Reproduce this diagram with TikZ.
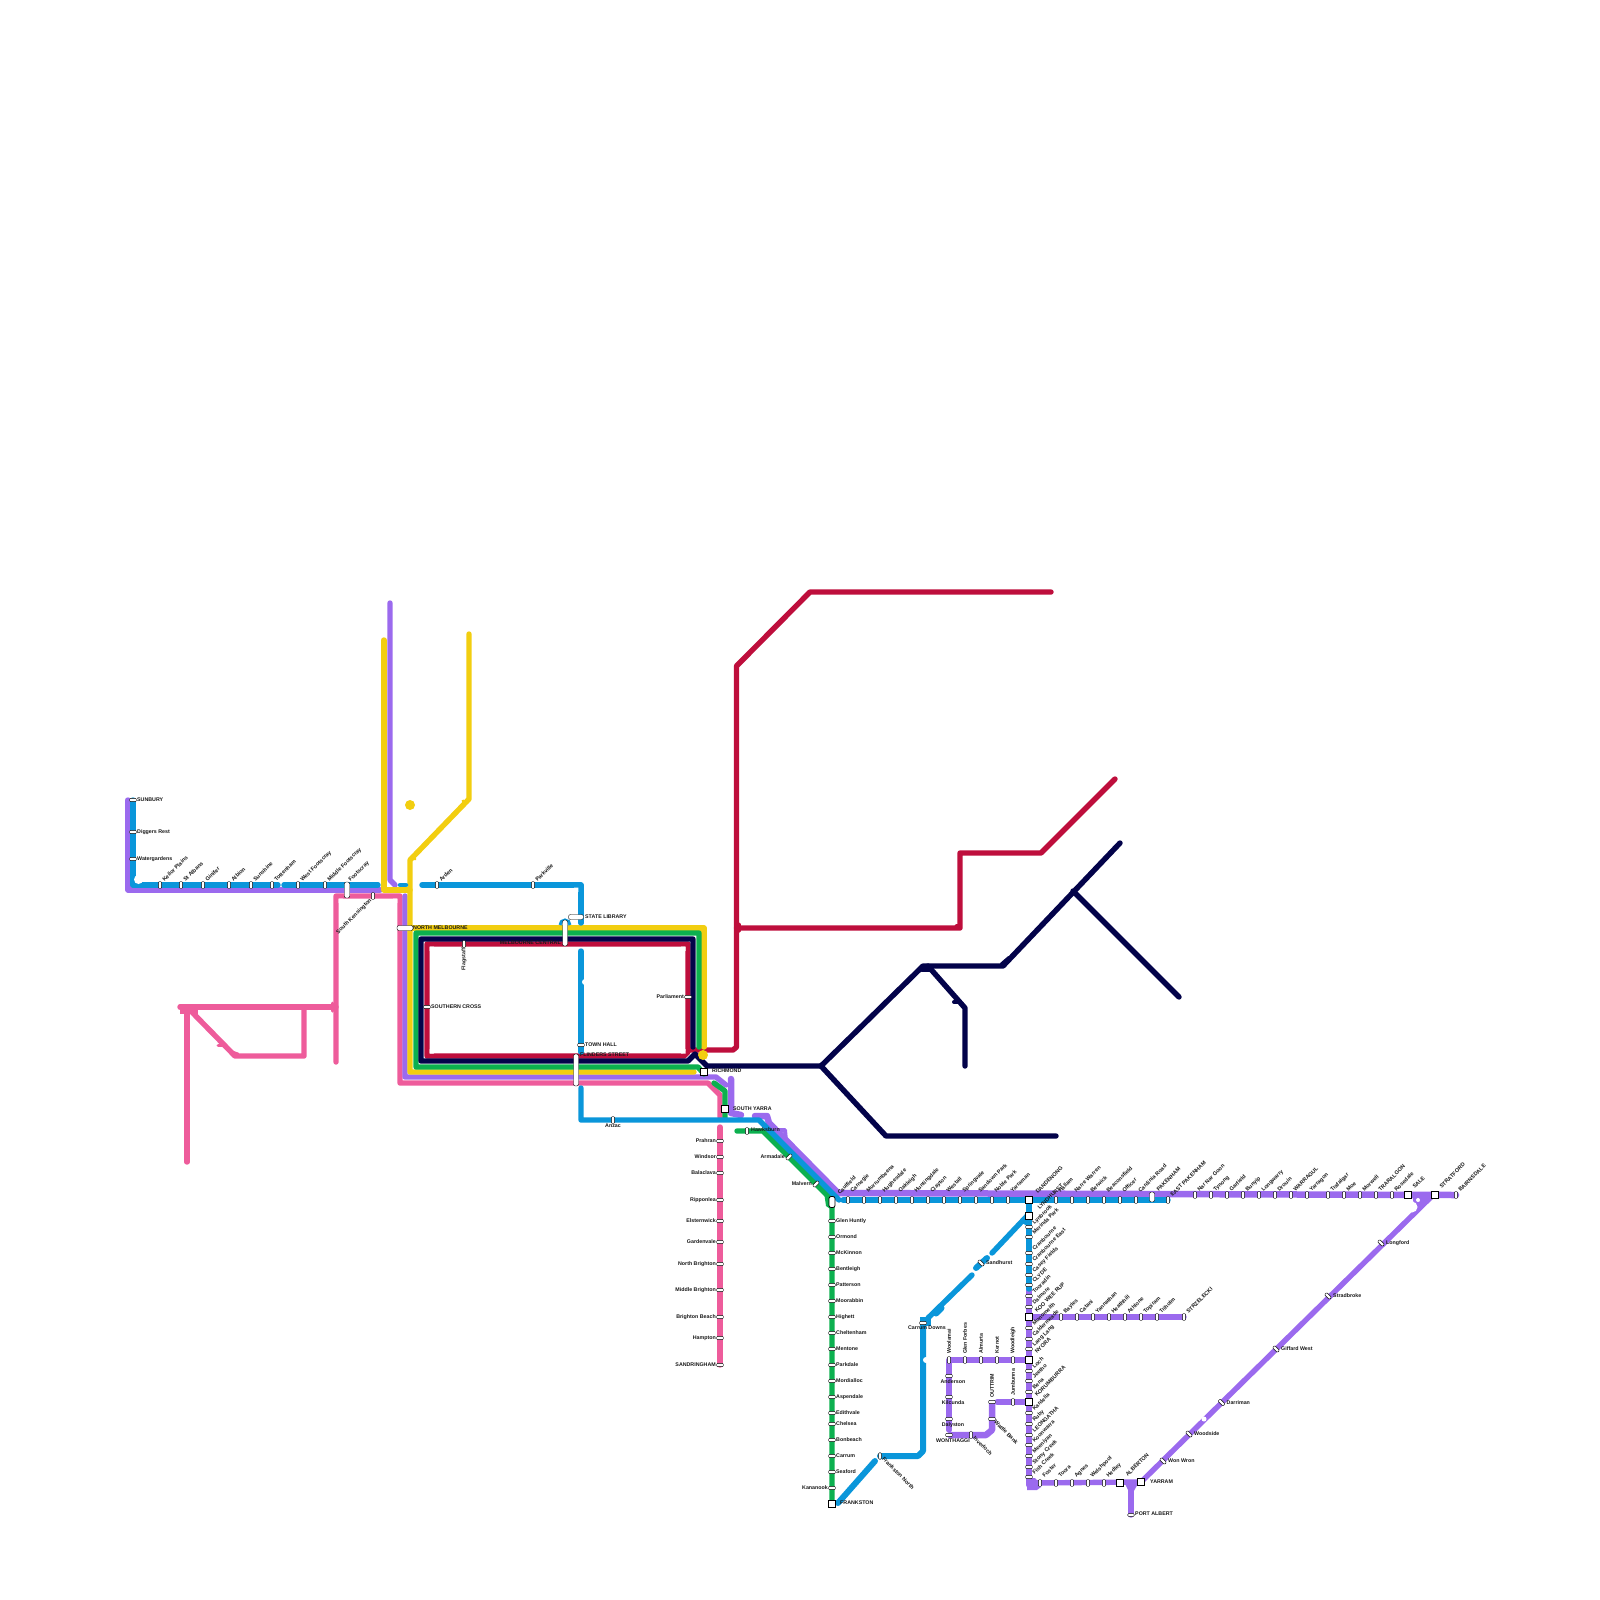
\documentclass[tikz,border=0pt]{standalone}
\usepackage{fontspec}
\setmainfont{Liberation Sans}
\definecolor{cblue}{HTML}{0A96DA}
\definecolor{cpurple}{HTML}{9B6AEE}
\definecolor{cyellow}{HTML}{F2CE10}
\definecolor{cgreen}{HTML}{0CB04F}
\definecolor{cnavy}{HTML}{03034A}
\definecolor{ccrimson}{HTML}{BE0E3C}
\definecolor{cpink}{HTML}{EE5C9B}
\newcounter{sn}
\tikzset{
  rail/.style={line width=5.4pt,line cap=round,line join=round},
  lab/.style={font=\bfseries\fontsize{5.3}{6}\selectfont,inner sep=0pt,text=black!90},
  rlab/.style={font=\bfseries\fontsize{5.5}{6}\selectfont,inner sep=0pt,text=black!90},
  pillbase/.style={draw=black,line width=.4pt,fill=white,inner sep=0pt,rounded corners=1pt},
  pillv/.style={pillbase,minimum width=3.2pt,minimum height=7pt},
  pillh/.style={pillbase,minimum width=7pt,minimum height=3.2pt},
  sqr/.style={draw=black,line width=1.1pt,fill=white,inner sep=0pt,minimum size=6.5pt},
  bigv/.style={pillbase,rounded corners=2pt,minimum width=5.5pt},
  bigh/.style={pillbase,rounded corners=2pt,minimum height=5pt},
}
\newcommand\HU[4][3]{\stepcounter{sn}\node[pillv] (s\thesn) at (#2,#3) {};\node[rlab,rotate=45,anchor=base west] (t\thesn) at ([xshift=4.5pt,yshift=#1pt]#2,#3) {#4};}
\newcommand\VU[3]{\stepcounter{sn}\node[pillh] (s\thesn) at (#1,#2) {};\node[rlab,rotate=45,anchor=base west] (t\thesn) at ([xshift=5.5pt,yshift=2pt]#1,#2) {#3};}
\newcommand\QU[5]{\stepcounter{sn}\node[sqr] (s\thesn) at (#1,#2) {};\node[rlab,rotate=45,anchor=base west] (t\thesn) at ([xshift=#3pt,yshift=#4pt]#1,#2) {#5};}
\newcommand\VR[3]{\stepcounter{sn}\node[pillh] (s\thesn) at (#1,#2) {};\node[lab,anchor=west] (t\thesn) at ([xshift=4pt]#1,#2) {#3};}
\newcommand\VL[3]{\stepcounter{sn}\node[pillh] (s\thesn) at (#1,#2) {};\node[lab,anchor=east] (t\thesn) at ([xshift=-4pt]#1,#2) {#3};}
\newcommand\HN[3]{\stepcounter{sn}\node[pillv] (s\thesn) at (#1,#2) {};\node[lab,rotate=90,anchor=west] (t\thesn) at ([yshift=6pt]#1,#2) {#3};}
\newcommand\VB[3]{\stepcounter{sn}\node[pillh] (s\thesn) at (#1,#2) {};\node[lab,anchor=north] (t\thesn) at ([xshift=4pt,yshift=-3.5pt]#1,#2) {#3};}
\newcommand\DR[3]{\stepcounter{sn}\node[pillv,rotate=45] (s\thesn) at (#1,#2) {};\node[lab,anchor=west] (t\thesn) at ([xshift=5pt]#1,#2) {#3};}
\begin{document}
\begin{tikzpicture}[x=1pt,y=-1pt]
\useasboundingbox (0,0) rectangle (1600,1600);
% ---- junction coordinates
\coordinate (sunT) at (133,800);   \coordinate (sunC) at (133,885);
\coordinate (wsTop) at (128,800);  \coordinate (wsC) at (128,890);  \coordinate (wsE) at (380,890);
\coordinate (cbd) at (581,885);
\coordinate (caul) at (832,1202);
\coordinate (dand) at (1029,1200);
\coordinate (sale) at (1408,1195);
\coordinate (strat) at (1435,1195);
\coordinate (bairn) at (1456,1195);
\coordinate (yarram) at (1141,1482);
\coordinate (alber) at (1120,1483);
\coordinate (palb) at (1131,1515);
\coordinate (koo) at (1029,1317);
\coordinate (nyora) at (1029,1360);
\coordinate (koru) at (1029,1402);
\coordinate (frank) at (832,1504);
\coordinate (fnth) at (880,1456);
\coordinate (carr) at (923,1320);
\coordinate (nj) at (821,1066);

% ---- crimson
\draw[rail,ccrimson] (427,944) -- (688,944) -- (688,1052) -- (684,1056) -- (427,1056) -- cycle;
\foreach \a/\b/\c/\d/\e/\f in {429.5/946.5/434/946.5/429.5/951,685.5/946.5/681/946.5/685.5/951,429.5/1053.5/434/1053.5/429.5/1049,685.5/1053.5/681/1053.5/685.5/1049}
  \fill[white] (\a,\b) -- (\c,\d) -- (\e,\f) -- cycle;
\draw[rail,ccrimson] (690,1050) -- (733,1050) -- (736.5,1047) -- (736.5,666) -- (810,592) -- (1051,592);
\draw[rail,ccrimson] (736.5,928) -- (960,928) -- (960,853) -- (1041,853) -- (1115,779);
\draw[rail,ccrimson,line width=3pt] (739,924) -- (739,931);
\draw[rail,ccrimson,line width=3pt] (956,925) -- (958,925);
% ---- pink
\draw[rail,cpink] (720,1117) -- (720,1095) -- (708,1083) -- (400,1083) -- (400,896) -- (336,896) -- (336,1062);
\fill[white] (338.7,898.7) -- (343,898.7) -- (338.7,903) -- cycle;
\fill[white] (397.3,898.7) -- (393,898.7) -- (397.3,903) -- cycle;
\draw[rail,cpink] (720,1127) -- (720,1365);
\draw[rail,cpink] (336,1007) -- (180,1007);
\draw[rail,cpink] (304,1007) -- (304,1056) -- (235,1056) -- (187,1007);
\draw[rail,cpink] (187,1007) -- (187,1162);
\draw[rail,cpink,line width=3pt] (218,1045) -- (226,1045);
\draw[rail,cpink,line width=3pt] (232,1052) -- (238,1054);
\fill[cpink] (180,1005) rectangle (198,1014);
\draw[rail,cpink,line width=3pt] (332,1003) -- (332,1011);
% ---- purple
\draw[rail,cpurple] (wsTop) -- (wsC) -- (wsE);
\draw[rail,cpurple] (390,603) -- (390,880) -- (395,885);
\draw[rail,cpurple] (405,896) -- (405,1077) -- (716,1077) -- (726,1085);
\draw[rail,cpurple,line width=6.5pt] (731,1079) -- (731,1113) -- (741,1115);
\draw[rail,cpurple,line width=6.5pt] (755,1116) -- (767,1116) -- (769,1123) -- (838,1193) -- (bairn);
\draw[rail,cpurple,line width=4pt] (772,1130) -- (785,1130) -- (786,1141);
\fill[cpurple] (1412,1195) -- (1435,1193) -- (1416,1214) -- cycle;
\draw[rail,cpurple] (1432,1196) -- (yarram);
\fill[white] (1412,1207) circle (5.5pt);
\fill[white] (1418,1200) circle (2pt);
\fill[white] (1204,1419) circle (2.5pt);
\draw[rail,cpurple] (1029,1289) -- (1029,1485);
\fill[cpurple] (1027,1478) -- (1035,1478) -- (1041,1484) -- (1041,1487) -- (1037,1490) -- (1027,1490) -- cycle;
\draw[rail,cpurple] (1029,1483) -- (yarram);
\fill[cpurple] (1124,1482) -- (1139,1482) -- (1131,1496) -- cycle;
\draw[rail,cpurple] (1131,1484) -- (palb);
\draw[rail,cpurple] (koo) -- (1184,1317);
\draw[rail,cpurple] (nyora) -- (949,1360) -- (949,1430);
\draw[rail,cpurple,line width=6.5pt] (950,1435) -- (986,1435) -- (992,1430) -- (992,1404);
\draw[rail,cpurple] (997,1402) -- (koru);
% ---- yellow
\draw[rail,cyellow] (384,640) -- (384,890) -- (410,890);
\draw[rail,cyellow] (469,634) -- (469,799) -- (410,860) -- (410,1072) -- (694,1072);
\draw[rail,cyellow] (410,928) -- (704,928) -- (704,1047);
\draw[rail,cyellow,line width=3pt] (463,801) -- (467,803);
\draw[rail,cyellow,line width=3pt] (412,856) -- (415,859);
\fill[cyellow] (410,805) circle (5pt);
% ---- green
\draw[rail,cgreen] (699,1047) -- (699,933) -- (416,933) -- (416,1067) -- (698,1067) -- (704,1074);
\draw[rail,cgreen] (714,1083) -- (725,1091) -- (725,1118);
\draw[rail,cgreen] (737,1131) -- (763,1131) -- (832,1200) -- (frank);
\fill[cgreen] (824,1192) -- (832,1200) -- (832,1210) -- (826,1206) -- cycle;
% ---- navy
\draw[rail,cnavy] (693,1047) -- (693,939) -- (421,939) -- (421,1061) -- (688,1061) -- (695,1054) -- (707,1066) -- (nj);
\draw[rail,cnavy] (nj) -- (923,966) -- (1003,966) -- (1120,843);
\draw[rail,cnavy] (1073,891) -- (1179,997);
\draw[rail,cnavy] (nj) -- (886,1136) -- (1056,1136);
\draw[rail,cnavy] (928,966) -- (965,1008) -- (965,1066);
\draw[rail,cnavy,line width=4pt] (922,970) -- (930,970);
\draw[rail,cnavy,line width=4pt] (954,1002) -- (959,1002);
\draw[rail,cnavy,line width=4pt] (1002,964) -- (1009,958);
\fill[cyellow] (703,1055) circle (5pt);
% ---- blue
\draw[rail,cblue] (sunT) -- (sunC) -- (278,885);
\fill[white] (138.5,879.5) circle (4.5pt);
\draw[rail,cblue] (284,885) -- (378,885);
\draw[rail,cblue,line width=4.5pt] (400,885) -- (406,885);
\draw[rail,cblue] (422,885) -- (cbd) -- (581,923);
\fill[white] (578.3,887.7) -- (574,887.7) -- (578.3,892) -- cycle;
\draw[cblue,line width=3pt] (560,925) arc[start angle=180,end angle=0,radius=5pt];
\draw[rail,cblue] (581,951) -- (581,1052);
\fill[white] (585,982) circle (3pt);
\draw[rail,cblue] (581,1088) -- (581,1120) -- (759,1120) -- (839,1200);
\draw[rail,cblue] (843,1200) -- (1168,1200);
\draw[rail,cblue] (dand) -- (1029,1289);
\fill[cblue] (1020,1222) -- (1029,1212) -- (1031,1228) -- cycle;
\draw[rail,cblue] (1027,1216) -- (992,1253);
\draw[rail,cblue,line width=6pt] (987,1258) -- (976,1268);
\draw[rail,cblue] (972,1275) -- (928,1318);
\draw[rail,cblue,line width=7pt] (941,1308) -- (936,1313);
\fill[cblue] (920,1317) rectangle (931,1326);
\draw[rail,cblue,line width=6pt] (carr) -- (923,1451) -- (918,1456) -- (fnth);
\draw[rail,cblue,line width=6pt] (838,1503) -- (875,1461);
\fill[white] (926,1360) circle (3pt);
% ---- large white interchanges
\stepcounter{sn}\node[bigv,minimum height=16pt] (footscray) at (347,890) {};
\node[rlab,rotate=45,anchor=base west] (footscrayL) at (350.6,882) {Footscray};
\node[bigh,minimum width=16pt] (nmelb) at (405,928) {};
\node[lab,anchor=west] (nmelbL) at (413,928) {NORTH MELBOURNE};
\node[bigv,minimum height=26pt,minimum width=5pt] (mcent) at (565,933) {};
\node[lab,anchor=east] (mcentL) at (561,943) {MELBOURNE CENTRAL};
\node[bigh,minimum width=15pt,minimum height=5pt] (slib) at (576,917) {};
\node[lab,anchor=west] (slibL) at (585,917) {STATE LIBRARY};
\node[bigv,minimum height=32pt,minimum width=5pt] (flind) at (576,1070) {};
\node[lab,anchor=west] (flindL) at (580,1055) {FLINDERS STREET};
\node[bigv,minimum height=11pt,minimum width=6pt,line width=.8pt] (caulS) at (caul) {};
\node[rlab,rotate=45,anchor=base west] (caulL) at (839.6,1195) {Caulfield};
\node[bigv,minimum height=10pt,minimum width=5pt] (card) at (1152,1197) {};
% ---- stations: Sunbury
\VR{133}{800}{SUNBURY}\VR{133}{832}{Diggers Rest}\VR{133}{859}{Watergardens}
\HU{160}{885}{Keilor Plains}\HU{181}{885}{St Albans}\HU{203}{885}{Ginifer}\HU{229}{885}{Albion}
\HU{251}{885}{Sunshine}\HU{272}{885}{Tottenham}\HU{298}{885}{West Footscray}\HU{325}{885}{Middle Footscray}
\stepcounter{sn}\node[pillv] (skens) at (373,896) {};
\node[rlab,rotate=45,anchor=base east] (skensL) at (372,900.5) {South Kensington};
\HU{437}{885}{Arden}\HU{533}{885}{Parkville}
\stepcounter{sn}\node[pillv] (flag) at (464,944) {};
\node[lab,rotate=90,anchor=east] (flagL) at (464,948) {Flagstaff};
\VR{427}{1007}{SOUTHERN CROSS}\VL{688}{997}{Parliament}\VR{581}{1045}{TOWN HALL}
% Richmond area
\node[sqr] (rich) at (704,1072) {};\node[lab,anchor=west] (richL) at (712,1071) {RICHMOND};
\node[sqr] (syar) at (725,1109) {};\node[lab,anchor=west] (syarL) at (733,1109) {SOUTH YARRA};
\node[pillv] (anzac) at (613,1120) {};\node[lab,anchor=north] (anzacL) at (613,1124) {Anzac};
\node[pillv] (hawk) at (747,1131) {};\node[lab,anchor=west] (hawkL) at (751,1130) {Hawksburn};
\node[pillv,rotate=-45] (arma) at (789,1157) {};\node[lab,anchor=east] (armaL) at (785,1157) {Armadale};
\node[pillv,rotate=-45] (malv) at (816,1184) {};\node[lab,anchor=east] (malvL) at (812,1184) {Malvern};
% Pakenham
\HU[7]{848}{1200}{Carnegie}\HU[7]{864}{1200}{Murrumbeena}\HU[7]{880}{1200}{Hughesdale}\HU[7]{896}{1200}{Oakleigh}
\HU[7]{912}{1200}{Huntingdale}\HU[7]{928}{1200}{Clayton}\HU[7]{944}{1200}{Westall}\HU[7]{960}{1200}{Springvale}
\HU[7]{976}{1200}{Sandown Park}\HU[7]{992}{1200}{Noble Park}\HU[7]{1008}{1200}{Yarraman}
\QU{1029}{1200}{8.6}{6}{DANDENONG}
\HU[7]{1056}{1200}{Hallam}\HU[7]{1072}{1200}{Narre Warren}\HU[7]{1088}{1200}{Berwick}\HU[7]{1104}{1200}{Beaconsfield}
\HU[7]{1120}{1200}{Officer}\HU[7]{1136}{1200}{Cardinia Road}
\node[rlab,rotate=45,anchor=base west] (pakL) at (1158.6,1192) {PAKENHAM};
\HU{1168}{1200}{EAST PAKENHAM}
% Gippsland
\HU{1195}{1195}{Nar Nar Goon}\HU{1211}{1195}{Tynong}\HU{1227}{1195}{Garfield}\HU{1243}{1195}{Bunyip}
\HU{1259}{1195}{Longwarry}\HU{1275}{1195}{Drouin}\HU{1291}{1195}{WARRAGUL}\HU{1307}{1195}{Yarragon}
\HU{1328}{1195}{Trafalgar}\HU{1344}{1195}{Moe}\HU{1360}{1195}{Morwell}\HU{1376}{1195}{TRARALGON}
\HU{1392}{1195}{Rosedale}\QU{1408}{1195}{6.6}{6}{SALE}\QU{1435}{1195}{6.6}{6}{STRATFORD}\HU{1456}{1195}{BAIRNSDALE}
\DR{1381}{1243}{Longford}\DR{1328}{1296}{Stradbroke}\DR{1276}{1349}{Giffard West}\DR{1221.5}{1402.5}{Darriman}
\DR{1189}{1434}{Woodside}\DR{1163}{1461}{Won Wron}\DR{981}{1263}{Sandhurst}
% Lyndhurst / Stony Point line
\QU{1029}{1216}{10.6}{6}{LYNDHURST}
\VU{1029}{1227}{Lynbrook}\VU{1029}{1237}{Merinda Park}\VU{1029}{1253}{Cranbourne}\VU{1029}{1264}{Cranbourne East}
\VU{1029}{1275}{Casey Fields}\VU{1029}{1285}{CLYDE}\VU{1029}{1296}{Tooradin}\VU{1029}{1307}{Dalmore}
\QU{1029}{1317}{8}{4}{KOO WEE RUP}
\VU{1029}{1328}{Monomeith}\VU{1029}{1339}{Caldermeade}\VU{1029}{1349}{Lang Lang}
\QU{1029}{1360}{8}{6}{NYORA}
\VU{1029}{1371}{Loch}\VU{1029}{1381}{Jeetho}\VU{1029}{1392}{Bena}
\QU{1029}{1402}{8}{5}{KORUMBURRA}
\VU{1029}{1413}{Kardella}\VU{1029}{1424}{Ruby}\VU{1029}{1435}{LEONGATHA}\VU{1029}{1445}{Koonwarra}
\VU{1029}{1456}{Meeniyan}\VU{1029}{1467}{Stony Creek}\VU{1029}{1477}{Fish Creek}
% South Gippsland
\HU[5]{1040}{1483}{Foster}\HU[5]{1056}{1483}{Toora}\HU[5]{1072}{1483}{Agnes}\HU[5]{1088}{1483}{Welshpool}\HU[5]{1104}{1483}{Hedley}
\QU{1120}{1483}{7.6}{6}{ALBERTON}
\node[sqr] (yarS) at (yarram) {};\node[lab,anchor=west] (yarL) at (1150,1482) {YARRAM};
\node[pillh,rounded corners=1.5pt] (palS) at (palb) {};\node[lab,anchor=west] (palL) at (1135,1514) {PORT ALBERT};
% Strzelecki
\HU{1061}{1317}{Bayles}\HU{1077}{1317}{Catani}\HU{1093}{1317}{Yannathan}\HU{1109}{1317}{Heathhill}\HU{1125}{1317}{Athlone}
\HU{1141}{1317}{Topiram}\HU{1157}{1317}{Triholm}\HU{1184}{1317}{STRZELECKI}
% Wonthaggi
\HN{949}{1360}{Woolamai}\HN{965}{1360}{Glen Forbes}\HN{981}{1360}{Almurta}\HN{997}{1360}{Kernot}\HN{1013}{1360}{Woodleigh}
\VB{949}{1376}{Anderson}\VB{949}{1397}{Kilcunda}\VB{949}{1419}{Dalyston}\VB{949}{1435}{WONTHAGGI}
\stepcounter{sn}\node[pillv] (inver) at (971,1435) {};\node[rlab,rotate=-45,anchor=west] (inverL) at (974,1437) {Inverloch};
\stepcounter{sn}\node[pillh] (wattle) at (992,1419) {};\node[rlab,rotate=-45,anchor=west] (wattleL) at (995,1421) {Wattle Bank};
\stepcounter{sn}\node[pillh] (outt) at (992,1402) {};\node[lab,rotate=90,anchor=west] (outtL) at (992,1398) {OUTTRIM};
\HN{1013}{1402}{Jumbunna}
% Frankston line
\VR{832}{1221}{Glen Huntly}\VR{832}{1237}{Ormond}\VR{832}{1253}{McKinnon}\VR{832}{1269}{Bentleigh}\VR{832}{1285}{Patterson}
\VR{832}{1301}{Moorabbin}\VR{832}{1317}{Highett}\VR{832}{1333}{Cheltenham}\VR{832}{1349}{Mentone}\VR{832}{1365}{Parkdale}
\VR{832}{1381}{Mordialloc}\VR{832}{1397}{Aspendale}\VR{832}{1413}{Edithvale}\VR{832}{1424}{Chelsea}\VR{832}{1440}{Bonbeach}
\VR{832}{1456}{Carrum}\VR{832}{1472}{Seaford}\VL{832}{1488}{Kananook}
\node[sqr] (frS) at (frank) {};\node[lab,anchor=west] (frL) at (840,1503) {FRANKSTON};
% Baxter line
\stepcounter{sn}\node[pillv,rounded corners=1.5pt] (fnS) at (fnth) {};\node[rlab,rotate=-45,anchor=west] (fnL) at (883,1458) {Frankston North};
\stepcounter{sn}\node[pillh] (cdS) at (923,1323) {};\node[lab,anchor=north] (cdL) at (927,1326) {Carrum Downs};
% Sandringham line
\VL{720}{1141}{Prahran}\VL{720}{1157}{Windsor}\VL{720}{1173}{Balaclava}\VL{720}{1200}{Ripponlea}\VL{720}{1221}{Elsternwick}
\VL{720}{1242}{Gardenvale}\VL{720}{1264}{North Brighton}\VL{720}{1290}{Middle Brighton}\VL{720}{1317}{Brighton Beach}
\VL{720}{1338}{Hampton}\VL{720}{1365}{SANDRINGHAM}
\end{tikzpicture}
\end{document}
